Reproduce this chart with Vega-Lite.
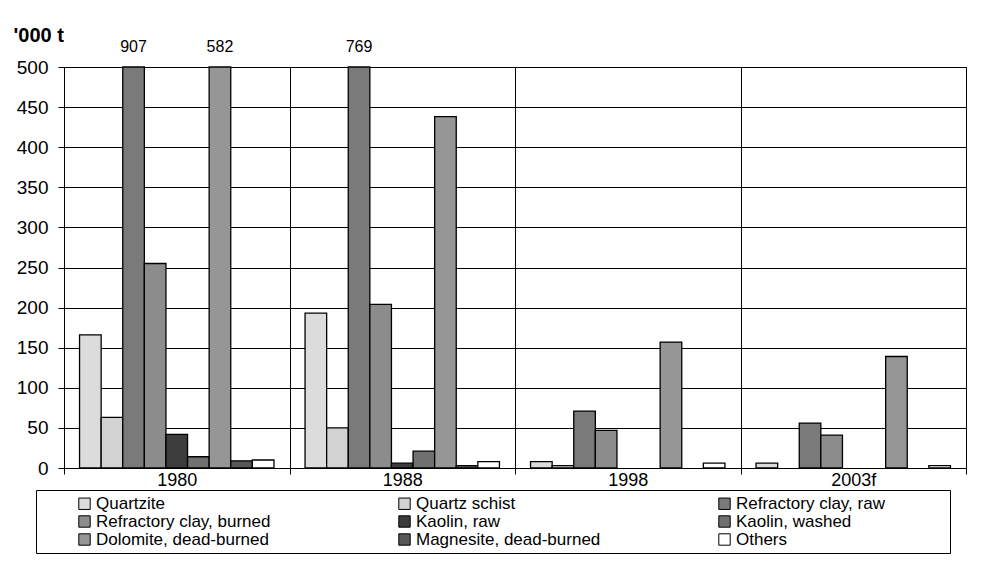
{
  "$schema": "https://vega.github.io/schema/vega-lite/v6.json",
  "width": 902,
  "height": 401,
  "autosize": {"type": "none"},
  "padding": {"left": 64, "top": 67, "right": 23, "bottom": 112},
  "background": "white",
  "config": {
    "font": "Liberation Sans",
    "view": {"stroke": "black", "strokeWidth": 1},
    "axis": {"labelColor": "black", "domainColor": "black", "tickColor": "black", "gridColor": "black", "gridOpacity": 1, "labelFont": "Liberation Sans"}
  },
  "data": {
    "values": [
      {"year": "1980", "mineral": "Quartzite", "value": 166},
      {"year": "1980", "mineral": "Quartz schist", "value": 63},
      {"year": "1980", "mineral": "Refractory clay, raw", "value": 907},
      {"year": "1980", "mineral": "Refractory clay, burned", "value": 255},
      {"year": "1980", "mineral": "Kaolin, raw", "value": 42},
      {"year": "1980", "mineral": "Kaolin, washed", "value": 14},
      {"year": "1980", "mineral": "Dolomite, dead-burned", "value": 582},
      {"year": "1980", "mineral": "Magnesite, dead-burned", "value": 9},
      {"year": "1980", "mineral": "Others", "value": 10},
      {"year": "1988", "mineral": "Quartzite", "value": 193},
      {"year": "1988", "mineral": "Quartz schist", "value": 50},
      {"year": "1988", "mineral": "Refractory clay, raw", "value": 769},
      {"year": "1988", "mineral": "Refractory clay, burned", "value": 204},
      {"year": "1988", "mineral": "Kaolin, raw", "value": 6},
      {"year": "1988", "mineral": "Kaolin, washed", "value": 21},
      {"year": "1988", "mineral": "Dolomite, dead-burned", "value": 438},
      {"year": "1988", "mineral": "Magnesite, dead-burned", "value": 3},
      {"year": "1988", "mineral": "Others", "value": 8},
      {"year": "1998", "mineral": "Quartzite", "value": 8},
      {"year": "1998", "mineral": "Quartz schist", "value": 3},
      {"year": "1998", "mineral": "Refractory clay, raw", "value": 71},
      {"year": "1998", "mineral": "Refractory clay, burned", "value": 47},
      {"year": "1998", "mineral": "Dolomite, dead-burned", "value": 157},
      {"year": "1998", "mineral": "Others", "value": 6},
      {"year": "2003f", "mineral": "Quartzite", "value": 6},
      {"year": "2003f", "mineral": "Refractory clay, raw", "value": 56},
      {"year": "2003f", "mineral": "Refractory clay, burned", "value": 41},
      {"year": "2003f", "mineral": "Dolomite, dead-burned", "value": 139},
      {"year": "2003f", "mineral": "Others", "value": 3}
    ]
  },
  "encoding": {
    "x": {
      "field": "year", "type": "nominal",
      "scale": {"paddingInner": 0, "paddingOuter": 0},
      "axis": {"title": null, "labelAngle": 0, "labelFontSize": 18, "labelPadding": -3, "tickSize": 6, "tickBand": "extent", "grid": true, "gridWidth": 1, "domainWidth": 1}
    },
    "xOffset": {
      "field": "mineral", "type": "nominal",
      "scale": {"domain": ["Quartzite", "Quartz schist", "Refractory clay, raw", "Refractory clay, burned", "Kaolin, raw", "Kaolin, washed", "Dolomite, dead-burned", "Magnesite, dead-burned", "Others"], "paddingInner": 0, "paddingOuter": 0.72}
    },
    "y": {
      "field": "value", "type": "quantitative",
      "scale": {"domain": [0, 500], "clamp": true, "nice": false},
      "axis": {"title": "'000 t", "titleAngle": 0, "titleX": -51, "titleY": -32, "titleAlign": "left", "titleBaseline": "middle", "titleFontSize": 20, "titleFontWeight": "bold", "titleColor": "black", "titleFont": "Liberation Sans", "values": [0, 50, 100, 150, 200, 250, 300, 350, 400, 450, 500], "labelFontSize": 19, "labelPadding": 10, "tickSize": 6, "grid": true, "gridWidth": 1, "domainWidth": 1}
    }
  },
  "layer": [
    {
      "mark": {"type": "bar", "stroke": "black", "strokeWidth": 1.3, "opacity": 1},
      "encoding": {
        "fill": {
          "field": "mineral", "type": "nominal",
          "scale": {
            "domain": ["Quartzite", "Quartz schist", "Refractory clay, raw", "Refractory clay, burned", "Kaolin, raw", "Kaolin, washed", "Dolomite, dead-burned", "Magnesite, dead-burned", "Others"],
            "range": ["#dcdcdc", "#d2d2d2", "#7a7a7a", "#8c8c8c", "#3c3c3c", "#707070", "#969696", "#585858", "#ffffff"]
          },
          "legend": {
            "title": "\u00a0", "titleOrient": "right", "titlePadding": 60, "titleFontSize": 10,
            "orient": "none", "legendX": -28, "legendY": 423,
            "direction": "horizontal", "columns": 3,
            "gridAlign": "all", "columnPadding": 80, "rowPadding": 0,
            "symbolType": "square", "symbolSize": 130, "symbolOffset": 35, "symbolStrokeColor": "black", "symbolStrokeWidth": 1, "symbolOpacity": 1,
            "labelFontSize": 17, "labelColor": "black", "labelLimit": 400, "labelOffset": 3,
            "padding": 5, "strokeColor": "black"
          }
        }
      }
    },
    {
      "transform": [{"filter": "datum.value > 500"}],
      "mark": {"type": "text", "fontSize": 16, "dy": -15, "baseline": "alphabetic", "color": "black"},
      "encoding": {"text": {"field": "value", "type": "quantitative"}}
    }
  ]
}
